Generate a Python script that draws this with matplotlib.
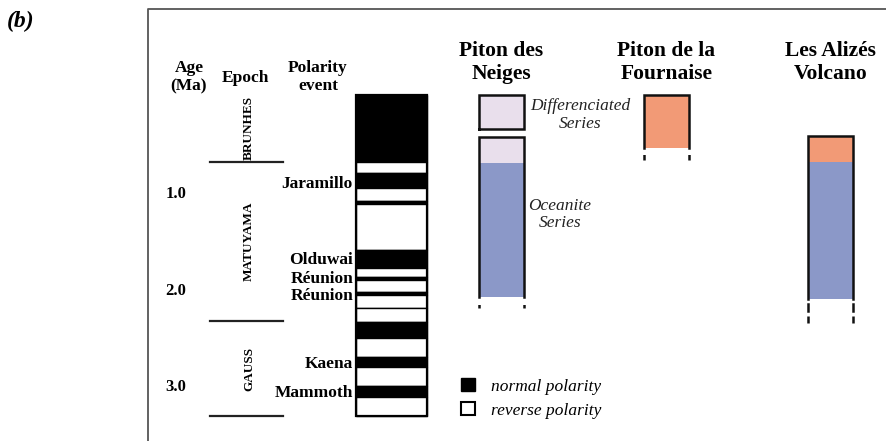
import matplotlib.pyplot as plt
from matplotlib.patches import Patch

plt.rcParams['font.family'] = ['Liberation Serif', 'DejaVu Serif']

# geomagnetic polarity time scale (Ma), 1 = normal, 0 = reverse
chron_bounds = [0.0, 0.69, 0.81, 0.96, 1.10, 1.13, 1.61, 1.79, 1.89, 1.92,
                2.04, 2.07, 2.21, 2.35, 2.52, 2.72, 2.82, 3.02, 3.13, 3.33]
chron_normal = [1, 0, 1, 0, 1, 0, 1, 0, 1, 0, 1, 0, 0, 1, 0, 1, 0, 1, 0]

events = ['Jaramillo', 'Olduwai', 'Réunion', 'Réunion', 'Kaena', 'Mammoth']
event_ages = [0.92, 1.71, 1.91, 2.08, 2.79, 3.09]

epochs = ['BRUNHES', 'MATUYAMA', 'GAUSS']
epoch_bounds = [0.0, 0.69, 2.34, 3.33]

age_ticks = [1.0, 2.0, 3.0]

# volcanic series (Ma)
volcanoes = ['Piton des\nNeiges', 'Piton de la\nFournaise', 'Les Alizés\nVolcano']
neiges_top = [0.0, 0.435, 0.705]
neiges_bot = [0.35, 0.705, 2.09]
neiges_unit = ['diff', 'diff', 'oce']
fournaise_top = [0.0]
fournaise_bot = [0.55]
fournaise_unit = ['pdf']
alizes_top = [0.425, 0.695]
alizes_bot = [0.695, 2.11]
alizes_unit = ['pdf', 'oce']
extension_end = [2.21, 0.67, 2.36]

unit_colors = {'diff': '#e9dfec', 'oce': '#8b98c8', 'pdf': '#f29a76'}


def py(p):
    # pixel row -> age (Ma)
    return (p - 95) / 96.5


fig = plt.figure(figsize=(8.86, 4.41), dpi=100)
ax = fig.add_axes([0, 0, 1, 1])
ax.set_xlim(0, 886)
ax.set_ylim(py(441), py(0))
ax.axis('off')

# frame
ax.plot([148, 148, 900], [py(460), py(9), py(9)], color='#555555', lw=1.3,
        clip_on=False)

ax.text(7, py(21), '(b)', fontsize=17, fontweight='bold', style='italic',
        va='center', ha='left')

# headers
ax.text(189, py(77), 'Age\n(Ma)', fontsize=12.5, fontweight='bold',
        ha='center', va='center', linespacing=1.15)
ax.text(245, py(78), 'Epoch', fontsize=12.5, fontweight='bold',
        ha='center', va='center')
ax.text(318, py(77), 'Polarity\nevent', fontsize=12.5, fontweight='bold',
        ha='center', va='center', linespacing=1.15)

for a in age_ticks:
    ax.text(176, a + 0.03, f'{a:.1f}', fontsize=12, fontweight='bold',
            ha='center', va='center')

# epochs
for b in epoch_bounds[1:]:
    ax.plot([210, 283], [b, b], color='#222222', lw=1.6)
for name, t, b in zip(epochs, epoch_bounds[:-1], epoch_bounds[1:]):
    ax.text(249, (t + b) / 2, name, fontsize=9.5, fontweight='bold',
            rotation=90, ha='center', va='center')

# polarity column
for t, b, n in zip(chron_bounds[:-1], chron_bounds[1:], chron_normal):
    ax.bar(391.5, b - t, bottom=t, width=71,
           color='black' if n else 'white', edgecolor='black', linewidth=1.0)
ax.bar(391.5, chron_bounds[-1], bottom=0, width=71, fill=False,
       edgecolor='black', linewidth=1.6)

for name, a in zip(events, event_ages):
    ax.text(353, a, name, fontsize=12.5, fontweight='bold', ha='right',
            va='center')

# volcano columns
col_x = [501.5, 666.5, 830.5]
col_w = 45
col_data = [(neiges_top, neiges_bot, neiges_unit),
            (fournaise_top, fournaise_bot, fournaise_unit),
            (alizes_top, alizes_bot, alizes_unit)]
dash_styles = [(4.8, (4.8, 3.0)), (5.5, (5.5, 2.6)), (3.8, (3.8, 1.5))]

for x, name, (tops, bots, units), ext, ds in zip(col_x, volcanoes, col_data,
                                                 extension_end, dash_styles):
    ax.text(x, py(62), name, fontsize=15.5, fontweight='bold', ha='center',
            va='center', linespacing=1.2)
    for t, b, u in zip(tops, bots, units):
        ax.bar(x, b - t, bottom=t, width=col_w, color=unit_colors[u],
               linewidth=0)
    left, right = x - col_w / 2, x + col_w / 2
    # continuous column = last contiguous stack
    start = tops[-1]
    i = len(tops) - 1
    while i > 0 and abs(bots[i - 1] - tops[i]) < 1e-6:
        i -= 1
        start = tops[i]
    end = bots[-1]
    ax.plot([left, left, right, right], [end, start, start, end],
            color='#111111', lw=1.8, solid_joinstyle='miter')
    # separate boxes above
    for t, b in zip(tops[:i], bots[:i]):
        ax.plot([left, left, right, right, left], [b, t, t, b, b],
                color='#111111', lw=1.8, solid_joinstyle='miter')
    for xx in (left, right):
        ax.plot([xx, xx], [end, ext], color='#111111', lw=1.8,
                linestyle=ds)

ax.text(580, py(115), 'Differenciated\nSeries', fontsize=12.5,
        style='italic', ha='center', va='center', color='#222222',
        linespacing=1.15)
ax.text(560, py(214.5), 'Oceanite\nSeries', fontsize=12.5, style='italic',
        ha='center', va='center', color='#222222', linespacing=1.15)

# legend
handles = [Patch(facecolor='black', edgecolor='black'),
           Patch(facecolor='white', edgecolor='black', linewidth=1.5)]
leg = ax.legend(handles, ['normal polarity', 'reverse polarity'],
                loc='upper left', bbox_to_anchor=(461 / 886, 1 - 378 / 441),
                bbox_transform=fig.transFigure, frameon=False,
                prop={'family': 'Liberation Serif', 'style': 'italic',
                      'size': 12.5},
                handlelength=0.8, handleheight=0.8, handletextpad=0.9,
                labelspacing=0.42, borderpad=0, borderaxespad=0)

fig.savefig('out.png', dpi=100, facecolor='white')
